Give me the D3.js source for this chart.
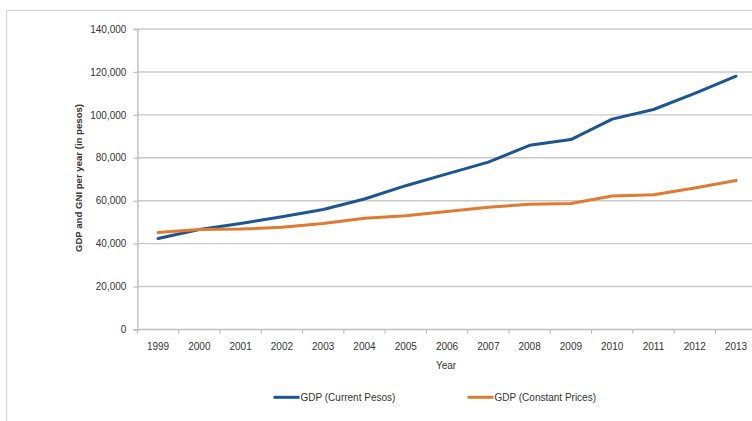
<!DOCTYPE html>
<html>
<head>
<meta charset="utf-8">
<script src="https://cdn.jsdelivr.net/npm/d3@7"></script>
<style>
  html, body { margin: 0; padding: 0; background: #fff; }
  svg { display: block; }
  text { font-family: "Liberation Sans", Arial, sans-serif; fill: #333; }
</style>
</head>
<body>
<svg id="chart" width="752" height="421"></svg>
<script>
// GDP per year, 1999–2013
const years = ["1999","2000","2001","2002","2003","2004","2005","2006","2007","2008","2009","2010","2011","2012","2013"];
const gdpCurrent  = [42400, 46600, 49400, 52500, 55900, 60800, 67000, 72500, 78000, 85800, 88500, 98000, 102500, 110000, 118000];
const gdpConstant = [45200, 46600, 46800, 47600, 49400, 51800, 53000, 55000, 57000, 58300, 58700, 62200, 62800, 65900, 69400];
const yTicks = [0, 20000, 40000, 60000, 80000, 100000, 120000, 140000];

const seriesNames = ["GDP (Current Pesos)", "GDP (Constant Prices)"];
const seriesColors = ["#1d5591", "#e07a31"];

const svg = d3.select("#chart");
const W = 752, H = 421;
const plot = { left: 137.4, right: 756.7, top: 29, bottom: 329.5 };

// outer chart frame (extends past the right and bottom edges)
svg.append("rect")
  .attr("x", 6.5).attr("y", 10.5)
  .attr("width", 800).attr("height", 500)
  .attr("fill", "none").attr("stroke", "#d6d6d6").attr("stroke-width", 1.2);

const x = d3.scaleBand().domain(years).range([plot.left, plot.right]);
const y = d3.scaleLinear().domain([0, 140000]).range([plot.bottom, plot.top]);

// horizontal gridlines
svg.append("g").selectAll("line")
  .data(yTicks.filter(d => d > 0))
  .join("line")
  .attr("x1", plot.left).attr("x2", plot.right)
  .attr("y1", d => y(d)).attr("y2", d => y(d))
  .attr("stroke", "#c9c9c9").attr("stroke-width", 1.4);

// y axis
const yAxis = svg.append("g")
  .attr("transform", `translate(${plot.left},0)`)
  .call(d3.axisLeft(y).tickValues(yTicks).tickSize(4).tickPadding(7)
    .tickFormat(d3.format(",")));
yAxis.select(".domain").attr("stroke", "#bdbdbd").attr("stroke-width", 1.4);
yAxis.selectAll(".tick line").attr("stroke", "#bdbdbd").attr("stroke-width", 1.2);
yAxis.selectAll("text").attr("font-size", 10).attr("fill", "#333");

// x axis: baseline with ticks between categories
const xg = svg.append("g");
xg.append("line")
  .attr("x1", plot.left).attr("x2", plot.right)
  .attr("y1", plot.bottom).attr("y2", plot.bottom)
  .attr("stroke", "#bdbdbd").attr("stroke-width", 1.4);
xg.selectAll("line.tk")
  .data(years)
  .join("line").attr("class", "tk")
  .attr("x1", d => x(d)).attr("x2", d => x(d))
  .attr("y1", plot.bottom).attr("y2", plot.bottom + 4)
  .attr("stroke", "#bdbdbd").attr("stroke-width", 1.2);
xg.selectAll("text")
  .data(years)
  .join("text")
  .attr("x", d => x(d) + x.bandwidth() / 2)
  .attr("y", 349.5)
  .attr("text-anchor", "middle")
  .attr("font-size", 10)
  .text(d => d);

// axis titles
svg.append("text")
  .attr("x", 446).attr("y", 368.5)
  .attr("text-anchor", "middle").attr("font-size", 10)
  .text("Year");
svg.append("text")
  .attr("transform", "translate(81.5,178) rotate(-90)")
  .attr("text-anchor", "middle").attr("font-size", 9.6).attr("font-weight", "bold")
  .text("GDP and GNI per year (in pesos)");

// series lines
const line = d3.line()
  .x((d, i) => x(years[i]) + x.bandwidth() / 2)
  .y(d => y(d));

[gdpCurrent, gdpConstant].forEach((vals, k) => {
  svg.append("path")
    .datum(vals)
    .attr("d", line)
    .attr("fill", "none")
    .attr("stroke", seriesColors[k])
    .attr("stroke-width", 3)
    .attr("stroke-linejoin", "round")
    .attr("stroke-linecap", "round");
});

// legend
const legendPos = [273.5, 467.5];
seriesNames.forEach((name, k) => {
  const g = svg.append("g").attr("transform", `translate(${legendPos[k]},397.3)`);
  g.append("line").attr("x1", 0).attr("x2", 26).attr("y1", 0).attr("y2", 0)
    .attr("stroke", seriesColors[k]).attr("stroke-width", 3);
  g.append("text").attr("x", 27).attr("y", 3.6).attr("font-size", 10).text(name);
});
</script>
</body>
</html>
